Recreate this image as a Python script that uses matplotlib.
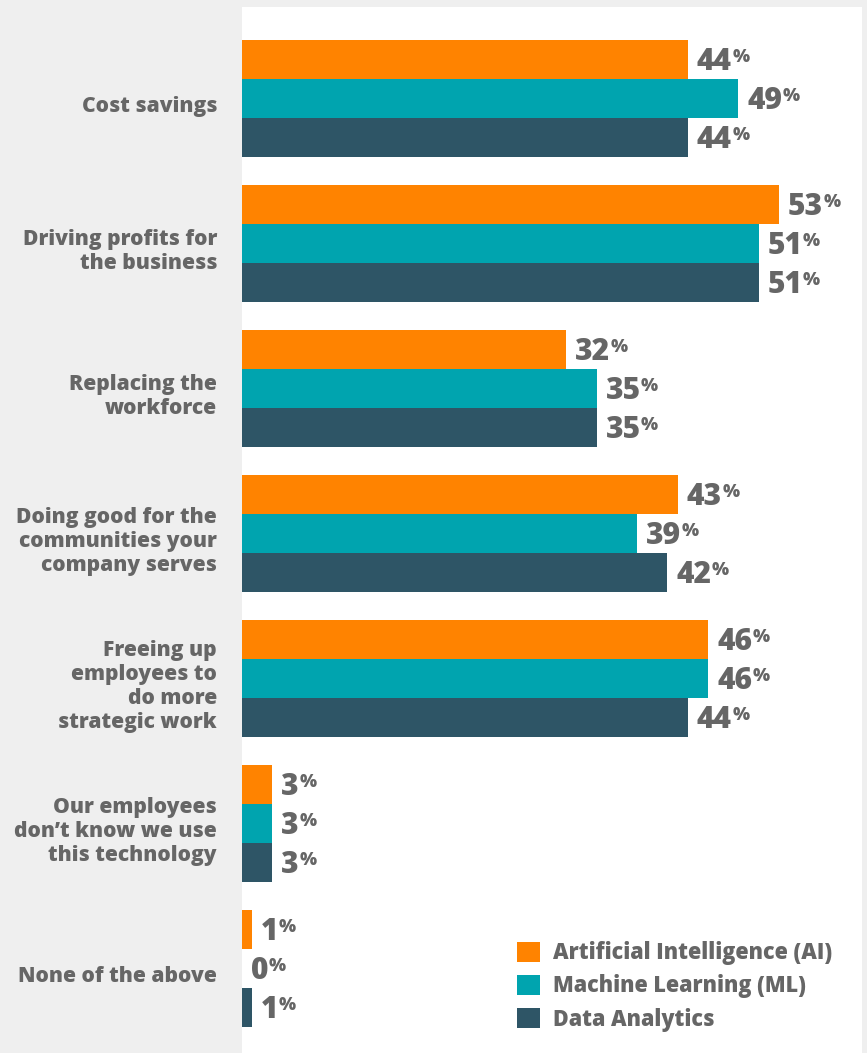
import matplotlib
matplotlib.use("Agg")
import matplotlib.pyplot as plt
import matplotlib.transforms as mtransforms
from matplotlib.patches import Patch
import numpy as np

plt.rcParams['font.family'] = ['Open Sans', 'DejaVu Sans']

# Data
categories = [
    "Cost savings",
    "Driving profits for\nthe business",
    "Replacing the\nworkforce",
    "Doing good for the\ncommunities your\ncompany serves",
    "Freeing up\nemployees to\ndo more\nstrategic work",
    "Our employees\ndon\u2019t know we use\nthis technology",
    "None of the above",
]
series_names = ["Artificial Intelligence (AI)", "Machine Learning (ML)", "Data Analytics"]
ai_values = [44, 53, 32, 43, 46, 3, 1]
ml_values = [49, 51, 35, 39, 46, 3, 0]
da_values = [44, 51, 35, 42, 44, 3, 1]

colors = ["#FF8300", "#00A4AF", "#2E5566"]
bg_gray = "#EFEFEF"
text_gray = "#666666"
heavy = 800

W, H = 867, 1053
fig = plt.figure(figsize=(W / 100, H / 100), dpi=100, facecolor=bg_gray)

ax_left, ax_right, ax_top = 242, 862, 7
ax = fig.add_axes([ax_left / W, 0, (ax_right - ax_left) / W, (H - ax_top) / H])
ax.set_facecolor("white")
for s in ax.spines.values():
    s.set_visible(False)
ax.set_xticks([])
ax.set_yticks([])

px_per_unit = 10.13
group_pitch = 145.0
bar_h = 39.0 / group_pitch
ax.set_xlim(0, (ax_right - ax_left) / px_per_unit)
first_center = 98.5
ax.set_ylim((H - first_center) / group_pitch, (ax_top - first_center) / group_pitch)

renderer = fig.canvas.get_renderer()

num_size = 21.5      # pt
pct_size = 13.0      # pt
cap_ratio = 0.714    # cap height / em for Open Sans
num_cap = num_size * cap_ratio
pct_cap = pct_size * cap_ratio
pad_pt = 6.5

y = np.arange(len(categories))
all_series = [ai_values, ml_values, da_values]
for k, (vals, col) in enumerate(zip(all_series, colors)):
    ypos = y + (k - 1) * bar_h
    ax.barh(ypos, vals, height=bar_h, color=col, linewidth=0)
    for yy, v in zip(ypos, vals):
        num = ax.annotate(f"{v}", xy=(v, yy), xytext=(pad_pt, -num_cap / 2),
                          textcoords="offset points", ha="left", va="baseline",
                          fontsize=num_size, fontweight=heavy, color=text_gray)
        w_pt = num.get_window_extent(renderer).width * 72 / fig.dpi
        ax.annotate("%", xy=(v, yy),
                    xytext=(pad_pt + w_pt + 0.3, num_cap / 2 - pct_cap),
                    textcoords="offset points", ha="left", va="baseline",
                    fontsize=pct_size, fontweight=heavy, color=text_gray)

# Category labels in the left panel
lbl_tr = mtransforms.offset_copy(
    mtransforms.blended_transform_factory(fig.transFigure, ax.transData),
    fig=fig, y=-8, units="dots")
for yy, cat in zip(y, categories):
    ax.text(217 / W, yy, cat, transform=lbl_tr, ha="right", va="center",
            multialignment="right", fontsize=15.1, fontweight=heavy,
            color=text_gray, linespacing=1.17)

handles = [Patch(facecolor=c, edgecolor="none", label=n) for c, n in zip(colors, series_names)]
fs = 15.5
fig.legend(handles=handles, loc="upper left",
           bbox_to_anchor=(517 / W, 1 - 941 / H), frameon=False, borderpad=0,
           prop={"weight": heavy, "size": fs},
           handlelength=1.07, handleheight=1.07, handletextpad=0.58,
           labelspacing=0.43, labelcolor=text_gray, borderaxespad=0)

fig.savefig("out.png", dpi=100, facecolor=bg_gray)
